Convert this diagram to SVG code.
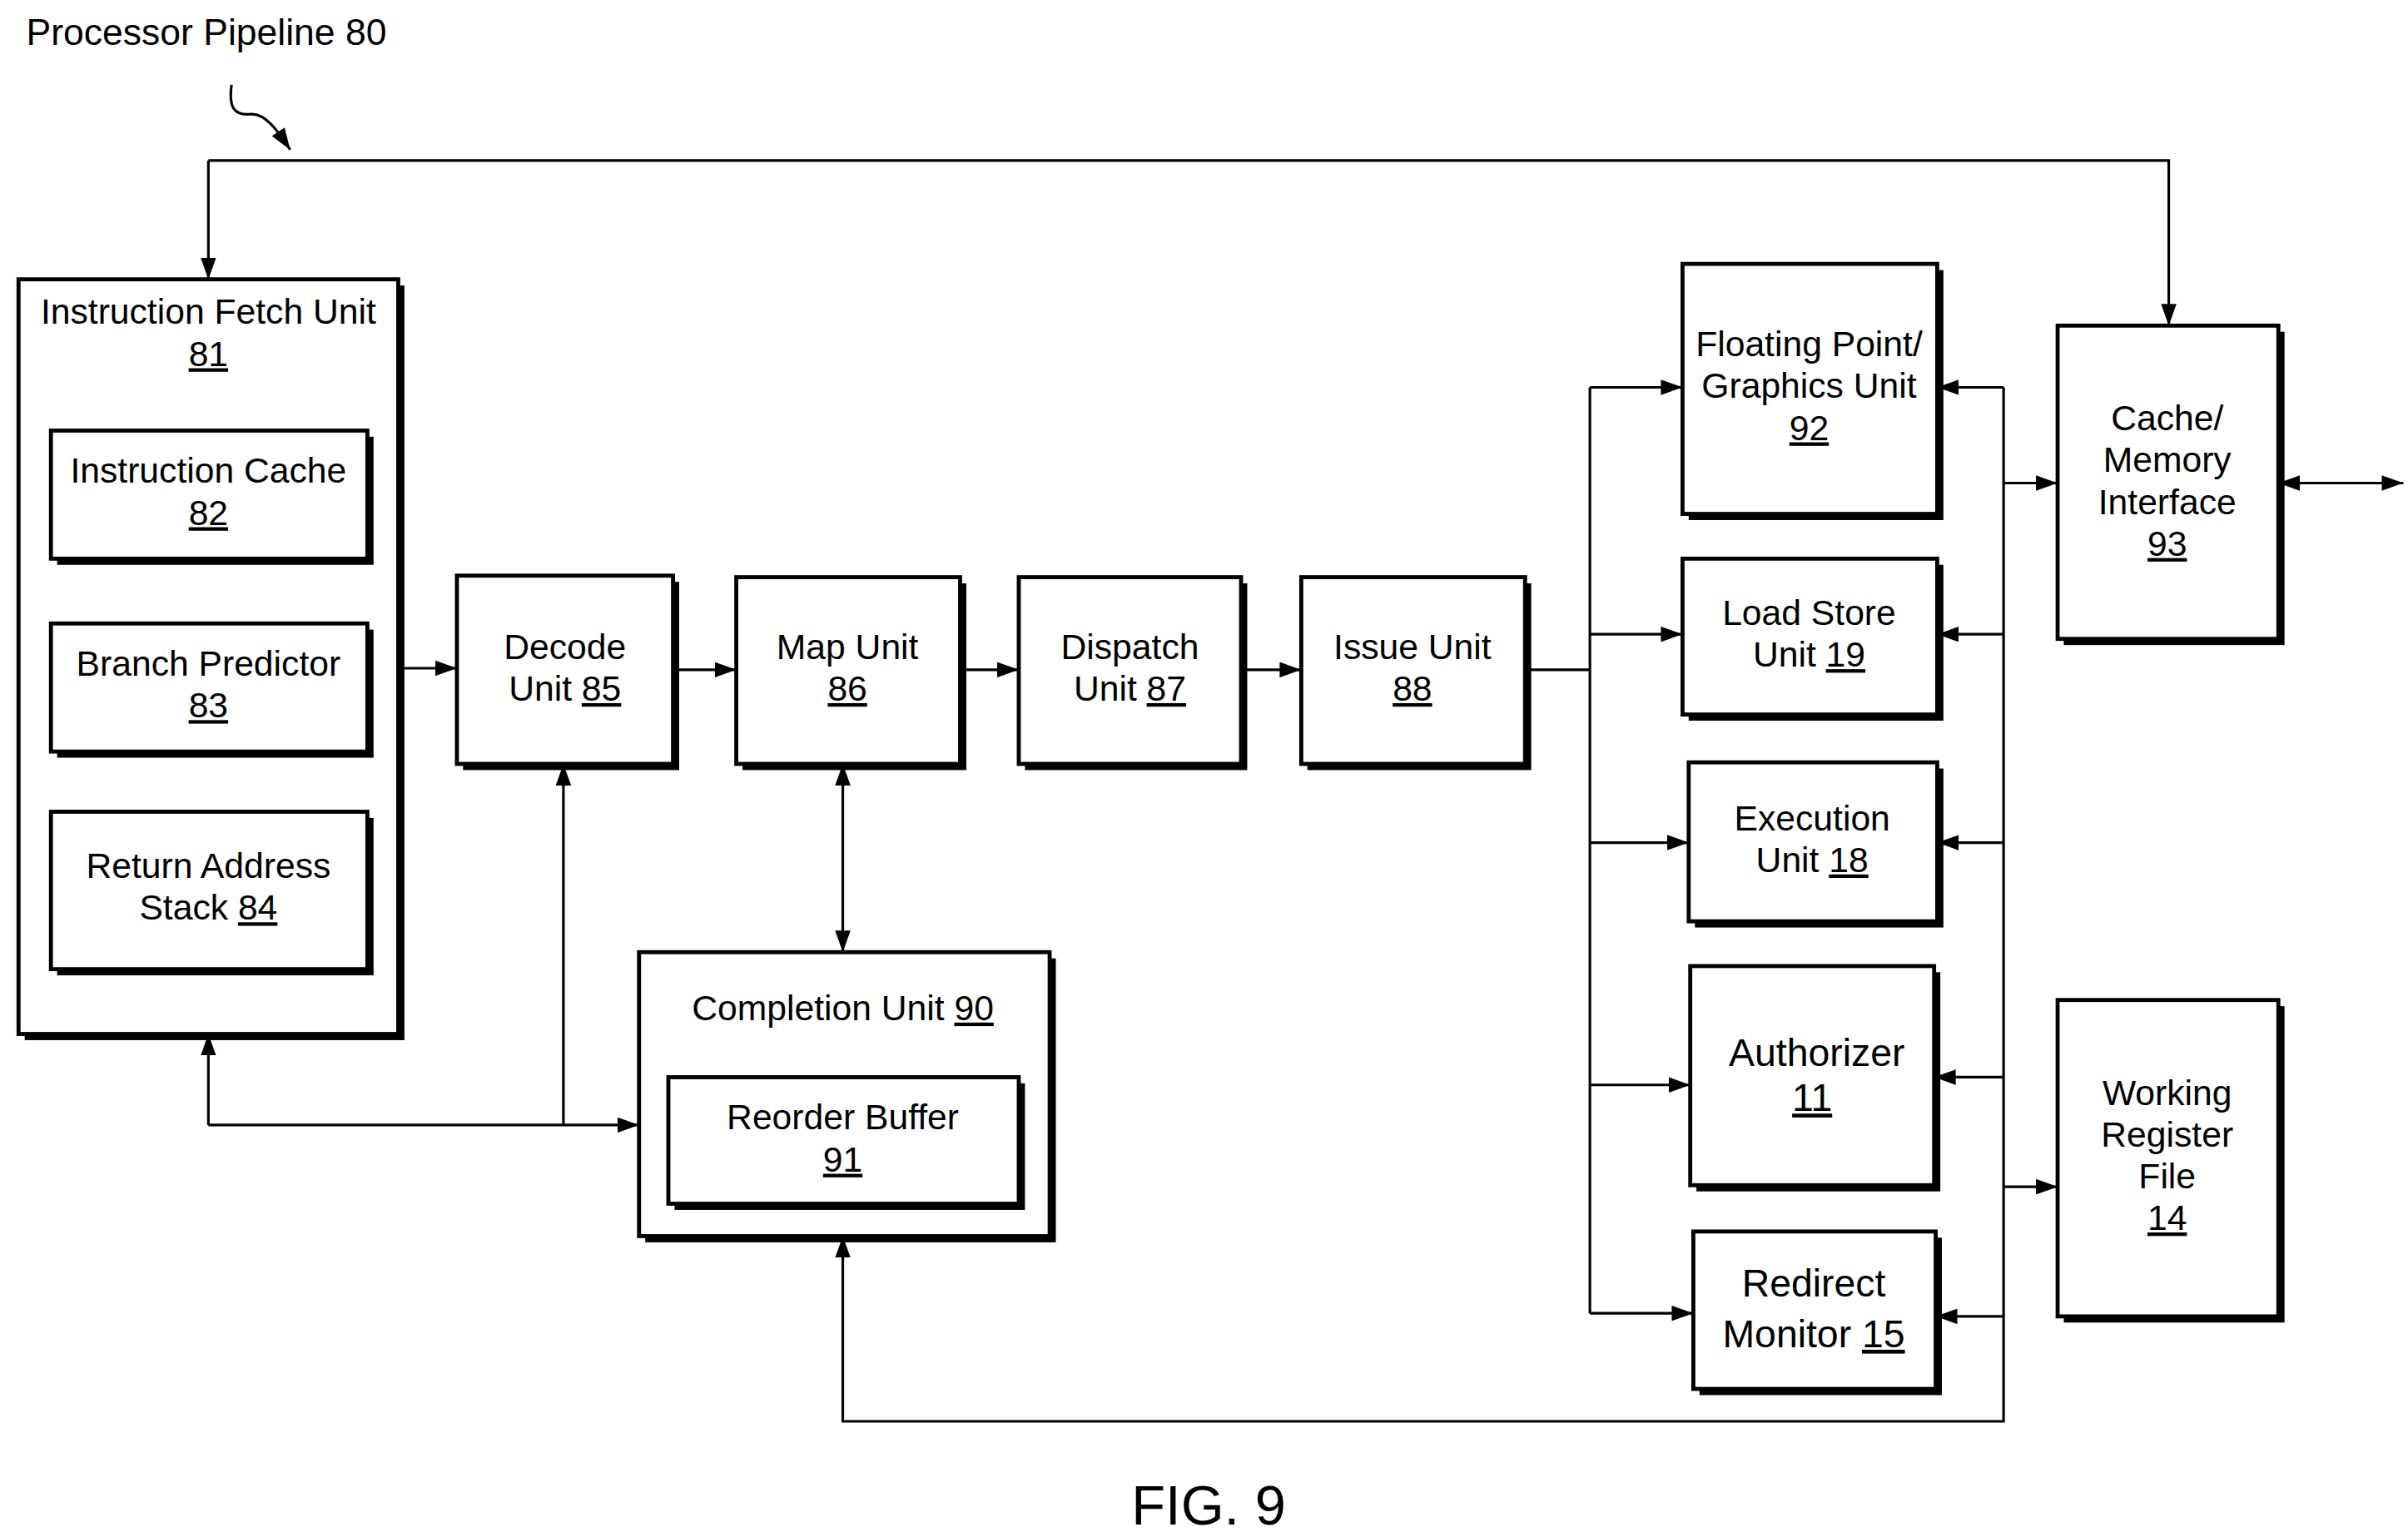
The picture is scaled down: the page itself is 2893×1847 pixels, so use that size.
<svg xmlns="http://www.w3.org/2000/svg" width="2893" height="1847" viewBox="0 0 2893 1847">
<style>
.b{fill:#fff;stroke:#000;stroke-width:2.6}
.s{fill:#000}
.t{font-family:"Liberation Sans",Arial,sans-serif;font-size:23px;text-anchor:middle;fill:#000}
.tb{font-family:"Liberation Sans",Arial,sans-serif;font-size:25px;text-anchor:middle;fill:#000}
.l{fill:none;stroke:#000;stroke-width:1.7}
</style>
<defs>
<marker id="a" viewBox="0 0 14 10" refX="14" refY="5" markerWidth="14" markerHeight="10" markerUnits="userSpaceOnUse" orient="auto-start-reverse"><path d="M0,0L14,5L0,10Z"/></marker>
</defs>
<rect width="2893" height="1847" fill="#fff"/>
<g transform="scale(1.8545)">
<text x="17" y="29" style="font-family:'Liberation Sans',Arial,sans-serif;font-size:24px">Processor Pipeline 80</text>
<text x="783" y="988" class="t" style="font-size:36px">FIG. 9</text>
<g id="connectors" class="l">
<path d="M150,55 C148,70 152,75 162,74 C172,73 180,85 188,97" marker-end="url(#a)"/>
<path d="M135,104 V181" marker-end="url(#a)"/>
<path d="M135,104 H1405 V211" marker-end="url(#a)"/>
<path d="M258,433 H296" marker-end="url(#a)"/>
<path d="M436,434 H477" marker-end="url(#a)"/>
<path d="M622,434 H660" marker-end="url(#a)"/>
<path d="M804,434 H843" marker-end="url(#a)"/>
<path d="M988,434 H1030"/>
<path d="M1030,251 V851"/>
<path d="M1030,251 H1090" marker-end="url(#a)"/>
<path d="M1030,411 H1090" marker-end="url(#a)"/>
<path d="M1030,546 H1094" marker-end="url(#a)"/>
<path d="M1030,703 H1095" marker-end="url(#a)"/>
<path d="M1030,851 H1097" marker-end="url(#a)"/>
<path d="M1298,251 V921 H546 V801" marker-end="url(#a)"/>
<path d="M1298,251 H1255" marker-end="url(#a)"/>
<path d="M1298,411 H1255" marker-end="url(#a)"/>
<path d="M1298,546 H1255" marker-end="url(#a)"/>
<path d="M1298,698 H1253" marker-end="url(#a)"/>
<path d="M1298,853 H1254" marker-end="url(#a)"/>
<path d="M1298,313 H1333" marker-end="url(#a)"/>
<path d="M1298,769 H1333" marker-end="url(#a)"/>
<path d="M1476,313 H1557" marker-start="url(#a)" marker-end="url(#a)"/>
<path d="M546,495 V617" marker-start="url(#a)" marker-end="url(#a)"/>
<path d="M365,729 V495" marker-end="url(#a)"/>
<path d="M135,729 H414" marker-end="url(#a)"/>
<path d="M135,729 V670" marker-end="url(#a)"/>
</g>
<g id="ifu"><rect x="16" y="185" width="246" height="489" class="s"/><rect x="12" y="181" width="246" height="489" class="b"/>
<text x="135" y="210" class="t">Instruction Fetch Unit</text><text x="135" y="237" class="t" text-decoration="underline">81</text></g>
<g id="icache"><rect x="37" y="283" width="205" height="83" class="s"/><rect x="33" y="279" width="205" height="83" class="b"/>
<text x="135" y="313" class="t">Instruction Cache</text><text x="135" y="340" class="t" text-decoration="underline">82</text></g>
<g id="bp"><rect x="37" y="408" width="205" height="83" class="s"/><rect x="33" y="404" width="205" height="83" class="b"/>
<text x="135" y="438" class="t">Branch Predictor</text><text x="135" y="465" class="t" text-decoration="underline">83</text></g>
<g id="ras"><rect x="37" y="530" width="205" height="102" class="s"/><rect x="33" y="526" width="205" height="102" class="b"/>
<text x="135" y="569" class="t">Return Address</text><text x="135" y="596" class="t">Stack <tspan text-decoration="underline">84</tspan></text></g>
<g id="decode"><rect x="300" y="377" width="140" height="122" class="s"/><rect x="296" y="373" width="140" height="122" class="b"/>
<text x="366" y="427" class="t">Decode</text><text x="366" y="454" class="t">Unit <tspan text-decoration="underline">85</tspan></text></g>
<g id="map"><rect x="481" y="378" width="145" height="121" class="s"/><rect x="477" y="374" width="145" height="121" class="b"/>
<text x="549" y="427" class="t">Map Unit</text><text x="549" y="454" class="t" text-decoration="underline">86</text></g>
<g id="dispatch"><rect x="664" y="378" width="144" height="121" class="s"/><rect x="660" y="374" width="144" height="121" class="b"/>
<text x="732" y="427" class="t">Dispatch</text><text x="732" y="454" class="t">Unit <tspan text-decoration="underline">87</tspan></text></g>
<g id="issue"><rect x="847" y="378" width="145" height="121" class="s"/><rect x="843" y="374" width="145" height="121" class="b"/>
<text x="915" y="427" class="t">Issue Unit</text><text x="915" y="454" class="t" text-decoration="underline">88</text></g>
<g id="completion"><rect x="418" y="621" width="266" height="184" class="s"/><rect x="414" y="617" width="266" height="184" class="b"/>
<text x="546" y="661" class="t">Completion Unit <tspan text-decoration="underline">90</tspan></text></g>
<g id="rob"><rect x="437" y="702" width="227" height="82" class="s"/><rect x="433" y="698" width="227" height="82" class="b"/>
<text x="546" y="732" class="t">Reorder Buffer</text><text x="546" y="759" class="t" text-decoration="underline">91</text></g>
<g id="fp"><rect x="1094" y="175" width="165" height="162" class="s"/><rect x="1090" y="171" width="165" height="162" class="b"/>
<text x="1172" y="231" class="t">Floating Point/</text><text x="1172" y="258" class="t">Graphics Unit</text><text x="1172" y="285" class="t" text-decoration="underline">92</text></g>
<g id="ls"><rect x="1094" y="366" width="165" height="101" class="s"/><rect x="1090" y="362" width="165" height="101" class="b"/>
<text x="1172" y="405" class="t">Load Store</text><text x="1172" y="432" class="t">Unit <tspan text-decoration="underline">19</tspan></text></g>
<g id="exec"><rect x="1098" y="498" width="161" height="103" class="s"/><rect x="1094" y="494" width="161" height="103" class="b"/>
<text x="1174" y="538" class="t">Execution</text><text x="1174" y="565" class="t">Unit <tspan text-decoration="underline">18</tspan></text></g>
<g id="auth"><rect x="1099" y="630" width="158" height="142" class="s"/><rect x="1095" y="626" width="158" height="142" class="b"/>
<text x="1177" y="691" class="tb">Authorizer</text><text x="1174" y="720" class="tb" text-decoration="underline">11</text></g>
<g id="redirect"><rect x="1101" y="802" width="157" height="102" class="s"/><rect x="1097" y="798" width="157" height="102" class="b"/>
<text x="1175" y="840" class="tb">Redirect</text><text x="1175" y="873" class="tb">Monitor <tspan text-decoration="underline">15</tspan></text></g>
<g id="cache"><rect x="1337" y="215" width="143" height="203" class="s"/><rect x="1333" y="211" width="143" height="203" class="b"/>
<text x="1404" y="279" class="t">Cache/</text><text x="1404" y="306" class="t">Memory</text><text x="1404" y="333" class="t">Interface</text><text x="1404" y="360" class="t" text-decoration="underline">93</text></g>
<g id="wrf"><rect x="1337" y="652" width="143" height="205" class="s"/><rect x="1333" y="648" width="143" height="205" class="b"/>
<text x="1404" y="716" class="t">Working</text><text x="1404" y="743" class="t">Register</text><text x="1404" y="770" class="t">File</text><text x="1404" y="797" class="t" text-decoration="underline">14</text></g>
</g>
</svg>
